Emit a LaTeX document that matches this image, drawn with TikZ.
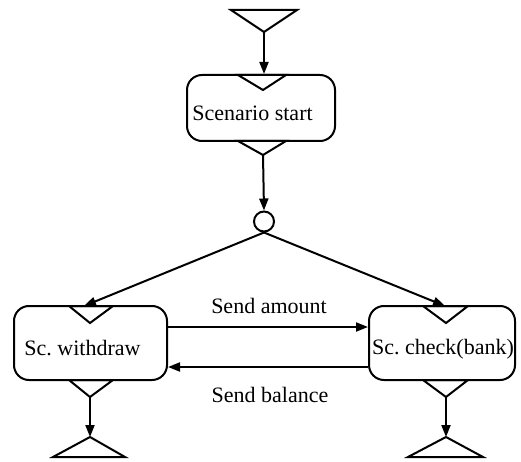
\documentclass[tikz,border=0pt]{standalone}
\usepackage{fontspec}
\setmainfont{Liberation Serif}
\usetikzlibrary{arrows.meta}
\begin{document}
\begin{tikzpicture}[x=1pt,y=-1pt,line width=2pt,line join=miter,
  box/.style={draw,rounded corners=15pt,inner sep=0pt,minimum height=74pt},
  txt/.style={inner sep=0pt,anchor=base,font=\fontsize{22}{26}\selectfont},
  conn/.style={-{Triangle[length=12pt,width=9pt]}},
  tri/.style={draw}]
\useasboundingbox (0,0) rectangle (521,462);
% boxes
\node[box,minimum width=148pt,minimum height=66pt] (start) at (261,108) {};
\node[box,minimum width=153pt] (wd) at (90.5,343) {};
\node[box,minimum width=146pt] (chk) at (442,343) {};
\node[txt] (starttxt) at (252.5,121) {Scenario start};
\node[txt] (wdtxt) at (82.5,355) {Sc.\ withdraw};
\node[txt] (chktxt) at (443,354) {Sc.\ check(bank)};
% entry / exit triangles
\draw (231,10) -- (297,10) -- (264,32) coordinate (top) -- cycle;
\draw (53,457) -- (125,457) -- (90,437) coordinate (wdend) -- cycle;
\draw (408,457) -- (483,457) -- (446,437) coordinate (chkend) -- cycle;
% pins in boxes
\draw (238,75) -- (286,75) -- (263,90) coordinate (startin) -- cycle;
\draw (238,141) -- (286,141) -- (263,155) coordinate (startout) -- cycle;
\draw (69,306) -- (113,306) -- (90,323) coordinate (wdin) -- cycle;
\draw (69,380) -- (113,380) -- (90,397) coordinate (wdout) -- cycle;
\draw (423,306) -- (468,306) -- (446,323) coordinate (chkin) -- cycle;
\draw (423,380) -- (468,380) -- (446,397) coordinate (chkout) -- cycle;
% fork circle
\node[draw,circle,inner sep=0pt,minimum size=20pt] (fork) at (264,221.5) {};
\coordinate (wdtop) at (84,306);
\coordinate (chktop) at (445,306);
% connectors
\draw[conn] (top) -- (top |- start.north);
\draw[conn] (startout) -- (fork.north);
\draw[conn] (fork.south) -- (wdtop);
\draw[conn] (fork.south) -- (chktop);
\draw[conn] (wdout) -- (wdend);
\draw[conn] (chkout) -- (chkend);
\draw[conn] ([yshift=16pt]wd.east) -- ([yshift=16pt]chk.west);
\draw[conn] ([yshift=-24pt]chk.west) -- ([yshift=-24pt]wd.east);
\node[txt] (sa) at (269,313) {Send amount};
\node[txt] (sb) at (270,402) {Send balance};
\end{tikzpicture}
\end{document}
